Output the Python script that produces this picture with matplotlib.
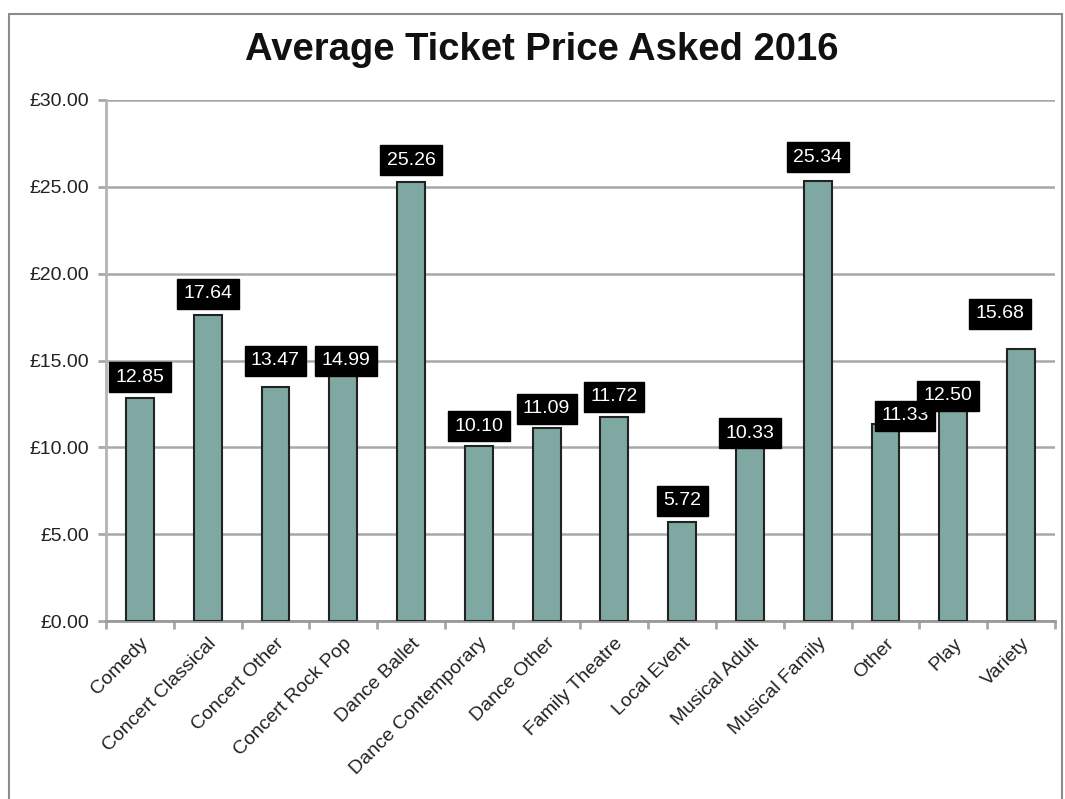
import numpy as np
import matplotlib.pyplot as plt
from matplotlib.patches import Rectangle
from matplotlib.ticker import FuncFormatter, MultipleLocator

plt.rcParams["font.family"] = ["Liberation Sans", "DejaVu Sans"]

categories = ["Comedy", "Concert Classical", "Concert Other", "Concert Rock Pop",
              "Dance Ballet", "Dance Contemporary", "Dance Other", "Family Theatre",
              "Local Event", "Musical Adult", "Musical Family", "Other", "Play", "Variety"]
prices = [12.85, 17.64, 13.47, 14.99, 25.26, 10.10, 11.09, 11.72, 5.72, 10.33,
          25.34, 11.33, 12.50, 15.68]

# label nudges (points) to mimic the hand-placed Excel labels
label_dx = [0, 0, 0, 2, 0, 0, 0, 0, 0, 0, 0, 14, -4, -15]
label_dy = [15, 15, 19, 0, 16, 14, 14, 15, 15, 6, 17, 6, 6, 25]

fig = plt.figure(figsize=(10.65, 7.99), dpi=100)
ax = fig.add_axes([106 / 1065, 1 - 621 / 799, (1055 - 106) / 1065, (621 - 100) / 799])

x = np.arange(len(categories))
ax.bar(x, prices, width=0.41, color="#7FA8A3", edgecolor="#222222", linewidth=1.5, zorder=3)

ax.set_xlim(-0.5, len(categories) - 0.5)
ax.set_ylim(0, 30)
ax.yaxis.set_major_locator(MultipleLocator(5))
ax.yaxis.set_major_formatter(FuncFormatter(lambda v, p: "£%.2f" % v))
ax.grid(axis="y", color="#A8A8A8", linewidth=1.8, zorder=0)

for s in ["top", "right"]:
    ax.spines[s].set_visible(False)
ax.spines["left"].set_color("#B4B4B4")
ax.spines["left"].set_linewidth(2)
ax.spines["bottom"].set_color("#999999")
ax.spines["bottom"].set_linewidth(2)

ax.set_xticks(np.arange(len(categories) + 1) - 0.5)
ax.set_xticklabels([])
ax.set_xticks(x, minor=True)
ax.set_xticklabels(categories, minor=True, rotation=45, ha="right", va="top",
                   rotation_mode="anchor", fontsize=14, color="#222222")
ax.tick_params(axis="x", which="minor", length=0, pad=10)
ax.tick_params(axis="x", which="major", length=6, width=2, color="#A8A8A8")
ax.tick_params(axis="y", length=6, width=2, color="#A8A8A8", labelsize=14,
               labelcolor="#222222", pad=6)

for i, v in enumerate(prices):
    ax.annotate("%.2f" % v, (x[i], v), xytext=(label_dx[i], label_dy[i]),
                textcoords="offset points", ha="center", va="center",
                color="white", fontsize=14, zorder=5,
                bbox=dict(boxstyle="square,pad=0.33", facecolor="black", edgecolor="black"))

fig.text(542 / 1065, 1 - 50 / 799, "Average Ticket Price Asked 2016", ha="center",
         va="center", fontsize=27.5, fontweight="bold", color="#111111")

fig.patches.append(Rectangle((9 / 1065, -0.01), (1062 - 9) / 1065, 1 - 14 / 799 + 0.01,
                             transform=fig.transFigure, fill=False,
                             edgecolor="#8C8C8C", linewidth=1.5))

fig.savefig("out.png", dpi=100)
